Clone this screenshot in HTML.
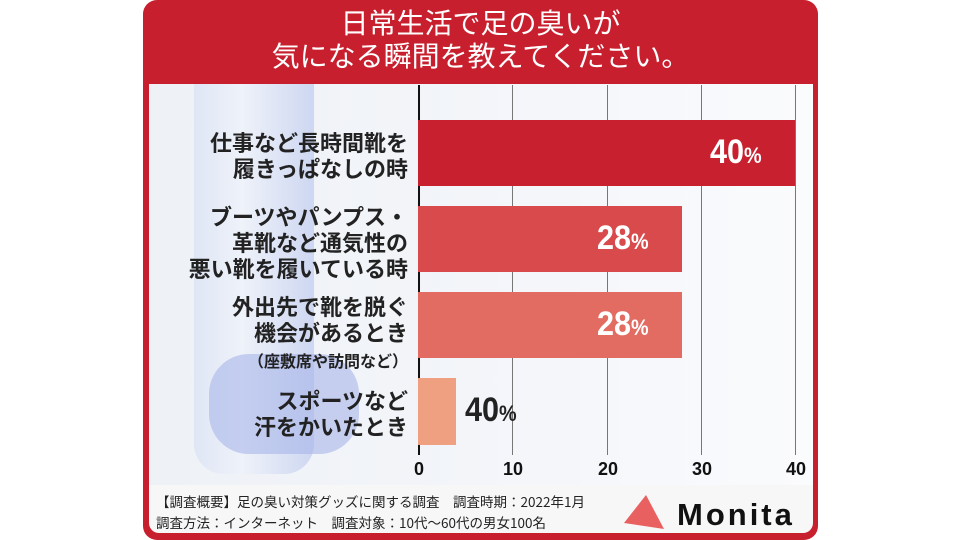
<!DOCTYPE html>
<html><head><meta charset="utf-8"><style>
body{margin:0;width:960px;height:540px;background:#fff;position:relative;overflow:hidden;font-family:"Liberation Sans","Noto Sans CJK JP",sans-serif}
.frame{position:absolute;left:143px;top:0;width:675px;height:540px;background:#c81f2e;border-radius:14px}
.title{position:absolute;left:143px;top:6px;width:675px;text-align:center;color:#fff;font-size:28px;line-height:33px;font-family:"Noto Sans CJK JP",sans-serif}
.panel{position:absolute;left:149px;top:84px;width:664px;height:401px;background:linear-gradient(90deg,#eef1f6,#f4f6fa 60%,#fafbfd);overflow:hidden}
.foot{position:absolute;left:149px;top:485px;width:664px;height:48px;background:#f7f7f7;border-radius:0 0 10px 10px}
.bottle{position:absolute;border-radius:30px}
.grid{position:absolute;top:85px;height:370px;width:1px;background:#777}
.bar{position:absolute;left:418px;height:66px}
.lab{position:absolute;right:552px;text-align:right;font-weight:bold;font-size:22px;line-height:26px;color:#222;font-family:"Noto Sans CJK JP",sans-serif}
.val{position:absolute;color:#fff;font-weight:bold;font-size:34px;font-family:"Liberation Sans",sans-serif;transform:scaleX(.9);transform-origin:left}
.val span{font-size:22px}
.tick{position:absolute;top:459px;font-weight:bold;font-size:18px;color:#111;width:40px;text-align:center}
.ft{position:absolute;left:156px;font-size:13.5px;color:#222;font-family:"Noto Sans CJK JP",sans-serif}
</style></head><body>
<div class="frame"></div>
<div class="title">日常生活で足の臭いが<br>気になる瞬間を教えてください。</div>
<div class="panel">
<div class="bottle" style="left:45px;top:-30px;width:120px;height:420px;background:linear-gradient(90deg,#dbe3f4,#eef2fa 40%,#c5d0f0);opacity:.8"></div>
<div class="bottle" style="left:60px;top:270px;width:150px;height:100px;background:#a9b5ea;border-radius:40px;opacity:.6"></div>
</div>
<div class="foot"></div>
<div class="grid" style="left:418px;background:#111;width:2px"></div>
<div class="grid" style="left:512px"></div>
<div class="grid" style="left:607px"></div>
<div class="grid" style="left:701px"></div>
<div class="grid" style="left:795px"></div>
<div class="bar" style="top:120px;width:377px;background:#c8202f"></div>
<div class="bar" style="top:206px;width:264px;background:#d84a4c"></div>
<div class="bar" style="top:292px;width:264px;background:#e26c62"></div>
<div class="bar" style="top:378px;height:67px;width:38px;background:#efa080"></div>
<div class="val" style="left:710px;top:133px">40<span>%</span></div>
<div class="val" style="left:597px;top:219px">28<span>%</span></div>
<div class="val" style="left:597px;top:305px">28<span>%</span></div>
<div class="val" style="left:465px;top:391px;color:#222">40<span>%</span></div>
<div class="lab" style="top:129px">仕事など長時間靴を<br>履きっぱなしの時</div>
<div class="lab" style="top:203px">ブーツやパンプス・<br>革靴など通気性の<br>悪い靴を履いている時</div>
<div class="lab" style="top:293px">外出先で靴を脱ぐ<br>機会があるとき<br><span style="font-size:16px">（座敷席や訪問など）</span></div>
<div class="lab" style="top:387px">スポーツなど<br>汗をかいたとき</div>
<div class="tick" style="left:399px">0</div>
<div class="tick" style="left:493px">10</div>
<div class="tick" style="left:588px">20</div>
<div class="tick" style="left:682px">30</div>
<div class="tick" style="left:776px">40</div>
<div class="ft" style="top:491px">【調査概要】足の臭い対策グッズに関する調査　調査時期：2022年1月</div>
<div class="ft" style="top:512px">調査方法：インターネット　調査対象：10代〜60代の男女100名</div>
<svg style="position:absolute;left:620px;top:493px" width="50" height="40"><polygon points="4,30 26,2 44,36" fill="#e86060"/></svg>
<div style="position:absolute;left:677px;top:497px;font-size:31px;font-weight:bold;letter-spacing:3px;color:#111">Monita</div>
</body></html>
